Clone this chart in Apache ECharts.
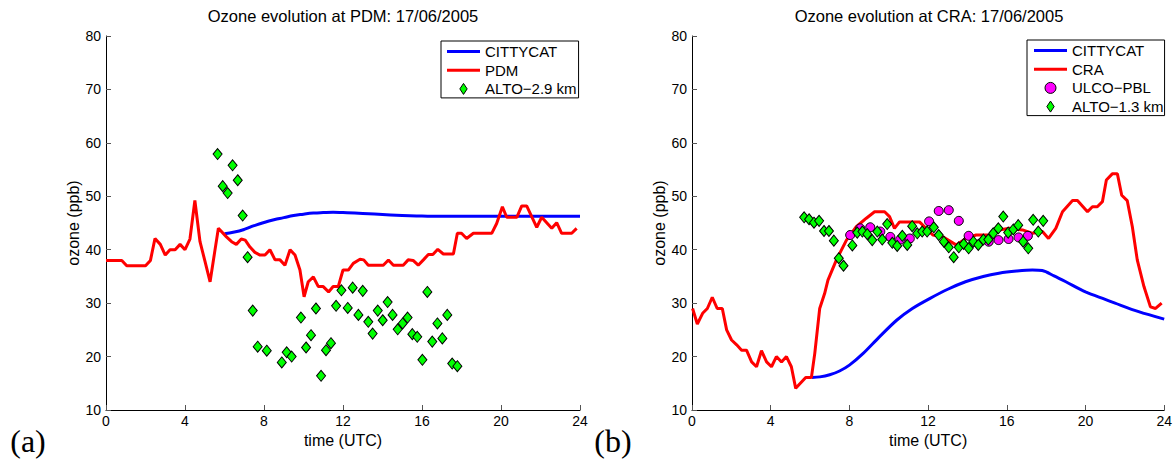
<!DOCTYPE html>
<html>
<head>
<meta charset="utf-8">
<script src="https://cdn.jsdelivr.net/npm/echarts@6/dist/echarts.min.js"></script>
<style>
html,body{margin:0;padding:0;background:#ffffff;}
#chart{width:1175px;height:461px;}
</style>
</head>
<body>
<div id="chart"></div>
<script>
// ---------------- DATA ----------------
const titleLeft = 'Ozone evolution at PDM: 17/06/2005';
const titleRight = 'Ozone evolution at CRA: 17/06/2005';
const panelLabels = ['(a)', '(b)'];
const xAxisName = 'time (UTC)';
const yAxisName = 'ozone (ppb)';
const xRange = [0, 24, 4];
const yRange = [10, 80, 10];

const legendLeft = ['CITTYCAT', 'PDM', 'ALTO\u22122.9 km'];
const legendRight = ['CITTYCAT', 'CRA', 'ULCO\u2212PBL', 'ALTO\u22121.3 km'];

// Left panel (PDM)
const cittycatPDM = [[6.0,43.0],[6.5,43.3],[7.0,43.8],[7.5,44.5],[8.0,45.1],[8.5,45.6],[9.0,46.0],[9.5,46.4],[10.0,46.65],[10.5,46.85],[11.0,46.95],[11.5,47.0],[12.0,46.95],[13.0,46.8],[14.0,46.6],[15.0,46.4],[16.0,46.3],[17.0,46.25],[20.0,46.25],[24.0,46.25]];
const pdmObs = [[0,38],[0.8,38],[1.05,37],[2.0,37],[2.25,38],[2.48,42.1],[2.75,41],[3.0,39],[3.24,40],[3.5,40],[3.75,41],[4.0,40],[4.25,42],[4.5,49.2],[4.76,41.5],[5.0,38],[5.27,34],[5.5,39.5],[5.69,44],[6.1,42.4],[6.36,41.5],[6.6,41],[6.85,42],[7.05,41.8],[7.29,40.5],[7.54,39.5],[7.8,39],[8.05,39],[8.3,40],[8.56,38.1],[8.81,38.1],[9.06,37.1],[9.32,40],[9.57,39],[9.82,36.2],[10.03,31.2],[10.24,34],[10.5,34.9],[10.75,33.1],[11.0,33.1],[11.27,32.1],[11.5,33.1],[11.76,33.1],[12.0,36.2],[12.27,36.2],[12.52,37.45],[12.86,38.2],[13.05,38.1],[13.28,37.1],[14.04,37.1],[14.3,38.07],[14.55,37.1],[15.05,37.1],[15.3,38.1],[15.55,38],[15.81,37.1],[16.07,38.1],[16.32,39.1],[16.55,39.1],[16.8,40.07],[17.08,39.2],[17.59,39.2],[17.79,43.07],[18.0,43.07],[18.26,42.1],[18.6,43.07],[19.53,43.07],[19.78,44.9],[20.07,48.05],[20.29,46.07],[20.8,46.07],[21.05,48.2],[21.3,48.2],[21.81,44.2],[22.06,46.07],[22.57,44.0],[22.82,45.05],[23.07,43.07],[23.58,43.07],[23.83,44.0]];
const alto29 = [[5.65,57.9],[5.91,51.9],[6.16,50.6],[6.41,55.8],[6.67,53.0],[6.92,46.4],[7.17,38.6],[7.43,28.6],[7.68,21.85],[8.14,21.1],[8.9,18.9],[9.15,20.8],[9.4,20.0],[9.87,27.3],[10.13,21.7],[10.38,24.0],[10.63,29.0],[10.89,16.4],[11.14,21.2],[11.39,22.5],[11.65,29.5],[11.92,32.4],[12.24,29.1],[12.49,32.9],[12.78,27.8],[13.0,32.3],[13.28,26.5],[13.5,24.3],[13.76,28.6],[14.01,26.8],[14.26,30.2],[14.51,27.8],[14.77,25.1],[15.02,26.2],[15.27,27.3],[15.51,24.2],[15.76,23.7],[16.02,19.4],[16.27,32.1],[16.52,22.8],[16.78,26.2],[17.03,23.4],[17.28,27.8],[17.53,18.7],[17.79,18.2]];

// Right panel (CRA)
const cittycatCRA = [[6.1,16.1],[6.5,16.2],[7.0,16.6],[7.5,17.3],[8.0,18.4],[8.7,20.6],[9.5,23.6],[10.4,26.8],[11.2,29.0],[12.1,30.9],[13.0,32.6],[13.9,34.0],[14.8,35.0],[15.6,35.6],[16.5,36.0],[17.3,36.2],[17.8,36.1],[18.4,35.1],[19.0,34.0],[20.0,32.1],[21.0,30.7],[21.5,30.0],[22.7,28.4],[24.0,27.0]];
const craObs = [[0.03,29.0],[0.27,26.1],[0.54,28.1],[0.78,29.0],[1.03,31.1],[1.28,29.0],[1.54,29.0],[1.76,25.0],[2.01,23.1],[2.27,22.2],[2.52,21.2],[2.77,21.2],[3.03,19.0],[3.28,18.1],[3.53,21.1],[3.79,19.0],[4.04,18.1],[4.29,20.0],[4.55,19.0],[4.8,20.0],[5.05,18.1],[5.27,14.05],[5.53,15.1],[5.78,16.1],[6.07,16.1],[6.24,20.6],[6.49,29.0],[6.74,31.8],[6.91,34.3],[7.34,38.1],[7.85,41.8],[8.35,44.3],[8.86,45.9],[9.28,47.1],[9.79,47.1],[10.04,46.2],[10.29,44.0],[10.55,45.2],[11.56,45.2],[12.24,42.75],[12.75,42.4],[13.42,40.9],[13.93,42.1],[14.44,42.75],[15.11,42.75],[15.62,43.7],[16.13,44.0],[16.8,43.7],[17.31,43.07],[17.81,43.4],[18.12,42.1],[18.49,44.0],[18.83,47.1],[19.34,49.2],[19.59,49.2],[20.1,47.1],[20.35,48.05],[20.6,48.05],[20.86,49.0],[21.06,53.05],[21.36,54.2],[21.62,54.2],[21.84,50.2],[22.12,49.2],[22.38,44.3],[22.63,38.1],[22.97,33.1],[23.3,29.3],[23.56,29.0],[23.87,30.0]];
const ulcoPBL = [[8.04,42.75],[8.55,44.0],[9.06,44.2],[9.57,43.4],[10.08,42.4],[10.58,41.9],[11.07,42.1],[12.05,45.3],[12.54,47.25],[13.05,47.4],[13.56,45.4],[14.06,42.6],[15.08,41.5],[15.58,41.8],[16.09,42.0],[16.6,42.3],[17.07,42.6]];
const alto13 = [[5.7,46.07],[5.95,45.7],[6.2,45.05],[6.46,45.4],[6.71,43.5],[6.96,43.5],[7.21,41.7],[7.46,38.4],[7.7,37.0],[8.15,40.8],[8.4,43.2],[8.66,43.4],[8.91,42.9],[9.16,41.8],[9.42,43.4],[9.67,41.9],[9.92,44.8],[10.18,41.3],[10.43,40.7],[10.69,42.6],[10.94,40.9],[11.19,44.4],[11.45,43.07],[11.7,43.4],[11.95,43.4],[12.29,44.2],[12.54,42.75],[12.8,41.5],[13.05,40.45],[13.3,38.6],[13.56,40.45],[13.81,41.07],[14.06,40.26],[14.3,41.5],[14.55,40.9],[14.81,41.9],[15.06,41.9],[15.31,43.07],[15.57,44.0],[15.82,46.2],[16.07,43.2],[16.33,43.8],[16.58,44.6],[16.83,41.5],[17.09,40.26],[17.34,45.6],[17.6,43.4],[17.85,45.4]];

// ---------------- STYLE ----------------
const SANS = '"Liberation Sans", Arial, Helvetica, sans-serif';
const SERIF = '"Liberation Serif", "DejaVu Serif", serif';
const BLUE = '#0000ff', RED = '#ff0000', GREEN = '#00ff00', MAGENTA = '#ff00ff';
const LINE_ICON = 'path://M0,0H33V3H0Z';
const DIAMOND_ICON = 'path://M4,0L8,6L4,12L0,6Z';
const CIRCLE_ICON = 'path://M5,0A5,5 0 1,1 5,10A5,5 0 1,1 5,0Z';

const grids = [
  {left: 106, top: 36, width: 474, height: 374},
  {left: 692, top: 36, width: 473, height: 374}
];

function makeX(i) {
  return {
    type: 'value', gridIndex: i, min: xRange[0], max: xRange[1], interval: xRange[2],
    axisLine: {onZero: false, lineStyle: {color: '#000', width: 1}},
    axisTick: {inside: true, length: 5, lineStyle: {color: '#555'}},
    axisLabel: {fontSize: 14, color: '#000', margin: 4, fontFamily: SANS},
    splitLine: {show: false},
    name: xAxisName, nameLocation: 'middle', nameGap: 20,
    nameTextStyle: {fontSize: 16, color: '#000', fontFamily: SANS}
  };
}
function makeY(i) {
  return {
    type: 'value', gridIndex: i, min: yRange[0], max: yRange[1], interval: yRange[2],
    axisLine: {show: true, onZero: false, lineStyle: {color: '#000', width: 1}},
    axisTick: {show: true, inside: true, length: 5, lineStyle: {color: '#555'}},
    axisLabel: {fontSize: 14, color: '#000', margin: 5, fontFamily: SANS},
    splitLine: {show: false},
    name: yAxisName, nameLocation: 'middle', nameGap: 22,
    nameTextStyle: {fontSize: 16, color: '#000', fontFamily: SANS}
  };
}
function lineSeries(name, data, color, i, smooth) {
  return {
    type: 'line', name, data, xAxisIndex: i, yAxisIndex: i,
    showSymbol: false, symbol: 'none', smooth: smooth || false,
    lineStyle: {color, width: 3}, itemStyle: {color}, z: 2
  };
}
function scatterSeries(name, data, color, i, symbol, size) {
  return {
    type: 'scatter', name, data, xAxisIndex: i, yAxisIndex: i,
    symbol, symbolSize: size,
    itemStyle: {color, borderColor: '#000', borderWidth: 1, opacity: 1}, z: 3
  };
}
function legendItem(name, kind) {
  if (kind === 'line') return {name, icon: LINE_ICON, itemStyle: {borderWidth: 0}};
  if (kind === 'diamond') return {name, icon: DIAMOND_ICON, itemStyle: {borderColor: '#000', borderWidth: 1}};
  return {name, icon: CIRCLE_ICON, itemStyle: {borderColor: '#000', borderWidth: 1}};
}
const legendBase = {
  orient: 'vertical', itemWidth: 33, itemHeight: 11, itemGap: 3.7, itemTextGap: 4,
  backgroundColor: '#fff', borderColor: '#000', borderWidth: 1, borderRadius: 0,
  textStyle: {fontSize: 15, color: '#000', fontFamily: SANS, lineHeight: 15},
  selectedMode: false
};

const chart = echarts.init(document.getElementById('chart'), null, {renderer: 'svg'});
chart.setOption({
  animation: false,
  backgroundColor: '#fff',
  grid: grids,
  xAxis: [makeX(0), makeX(1)],
  yAxis: [makeY(0), makeY(1)],
  legend: [
    Object.assign({}, legendBase, {left: 441, top: 41, padding: [3, 2, 1.5, 6],
      data: [legendItem(legendLeft[0], 'line'), legendItem(legendLeft[1], 'line'), legendItem(legendLeft[2], 'diamond')]}),
    Object.assign({}, legendBase, {left: 1027, top: 40, padding: [3, 1, 1.5, 7],
      data: [legendItem(legendRight[0], 'line'), legendItem(legendRight[1], 'line'), legendItem(legendRight[2], 'circle'), legendItem(legendRight[3], 'diamond')]})
  ],
  graphic: [
    {type: 'text', x: 343, y: 16, style: {text: titleLeft, fontSize: 16.5, fontFamily: SANS, fill: '#000', align: 'center', verticalAlign: 'middle', textAlign: 'center', textVerticalAlign: 'middle'}},
    {type: 'text', x: 929, y: 16, style: {text: titleRight, fontSize: 16.5, fontFamily: SANS, fill: '#000', align: 'center', verticalAlign: 'middle', textAlign: 'center', textVerticalAlign: 'middle'}},
    {type: 'text', x: 28, y: 441, style: {text: panelLabels[0], fontSize: 32, fontFamily: SERIF, fill: '#000', align: 'center', verticalAlign: 'middle', textAlign: 'center', textVerticalAlign: 'middle'}},
    {type: 'text', x: 613, y: 441, style: {text: panelLabels[1], fontSize: 32, fontFamily: SERIF, fill: '#000', align: 'center', verticalAlign: 'middle', textAlign: 'center', textVerticalAlign: 'middle'}}
  ],
  series: [
    lineSeries(legendLeft[0], cittycatPDM, BLUE, 0, true),
    lineSeries(legendLeft[1], pdmObs, RED, 0, false),
    scatterSeries(legendLeft[2], alto29, GREEN, 0, 'diamond', [9, 11]),
    lineSeries(legendRight[0], cittycatCRA, BLUE, 1, 0.3),
    lineSeries(legendRight[1], craObs, RED, 1, false),
    scatterSeries(legendRight[2], ulcoPBL, MAGENTA, 1, 'circle', 9),
    scatterSeries(legendRight[3], alto13, GREEN, 1, 'diamond', [9, 11])
  ]
});
</script>
</body>
</html>
